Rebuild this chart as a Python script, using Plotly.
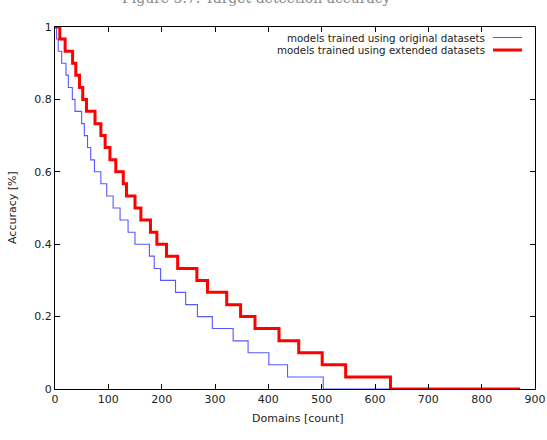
import plotly.graph_objects as go

# Step drop positions (domains count)
orig_x = [0, 3, 6, 12.5, 20.6, 25, 32.5, 37.5, 50, 55, 61, 67, 74, 86, 97, 109,
          122, 137, 150, 177, 186, 198, 226, 245, 267, 295, 334, 362, 401, 436, 503, 628]
ext_x = [0, 9, 19, 33, 39, 46, 52, 59, 75, 86, 94, 103, 114, 128, 134, 150,
         161, 179, 191, 209, 230, 266, 286, 322, 348, 375, 420, 457, 501, 545, 629, 872]
# Accuracy levels (fraction of 30 datasets)
levels = [1.0, 0.967, 0.933, 0.9, 0.867, 0.833, 0.8, 0.767, 0.733, 0.7, 0.667,
          0.633, 0.6, 0.567, 0.533, 0.5, 0.467, 0.433, 0.4, 0.367, 0.333,
          0.3, 0.267, 0.233, 0.2, 0.167, 0.133, 0.1, 0.067, 0.033, 0.0, 0.0]

x_ticks = [0, 100, 200, 300, 400, 500, 600, 700, 800, 900]
y_ticks = [0, 0.2, 0.4, 0.6, 0.8, 1]
y_tick_text = ["0", "0.2", "0.4", "0.6", "0.8", "1"]

names = ["models trained using original datasets", "models trained using extended datasets"]
BLUE = "#5858ff"
RED = "#ff0000"
FONT = "DejaVu Sans"
TXT = "#222"

fig = go.Figure()
fig.add_trace(go.Scatter(x=orig_x, y=levels, mode="lines", line_shape="hv",
                         line=dict(color=BLUE, width=1.1), name=names[0], showlegend=False))
fig.add_trace(go.Scatter(x=ext_x, y=levels, mode="lines", line_shape="hv",
                         line=dict(color=RED, width=3), name=names[1], showlegend=False))

W, H = 547, 440
L, R, T, B = 55, 12, 27, 51
pw, ph = W - L - R, H - T - B

def px_x(p):
    return (p - L) / pw

def px_y(p):
    return 1 - (p - T) / ph

# custom legend (text right-aligned, sample on the right, gnuplot style)
leg_y = [37.5, 50]
colors = [BLUE, RED]
widths = [1.1, 3]
for i in range(2):
    yp = px_y(leg_y[i])
    fig.add_annotation(x=px_x(487), y=yp, xref="paper", yref="paper",
                       text=names[i], showarrow=False, xanchor="right", yanchor="middle",
                       font=dict(family=FONT, size=10.3, color=TXT))
    fig.add_shape(type="line", xref="paper", yref="paper",
                  x0=px_x(493), x1=px_x(522), y0=yp, y1=yp,
                  line=dict(color=colors[i], width=widths[i]))

# axis titles
fig.add_annotation(x=px_x(298), y=px_y(418), xref="paper", yref="paper",
                   text="Domains [count]", showarrow=False, xanchor="center", yanchor="middle",
                   font=dict(family=FONT, size=11, color=TXT))
fig.add_annotation(x=px_x(12), y=px_y(208), xref="paper", yref="paper",
                   text="Accuracy [%]", showarrow=False, xanchor="center", yanchor="middle",
                   textangle=-90, font=dict(family=FONT, size=11, color=TXT))

# cropped caption at the very top
fig.add_annotation(x=px_x(256), y=1, xref="paper", yref="paper", yanchor="bottom",
                   yshift=19, showarrow=False,
                   text="Figure 5.7: Target detection accuracy",
                   font=dict(family="DejaVu Serif", size=14, color="#888"))

axis_common = dict(showgrid=False, zeroline=False, showline=True, linecolor="black",
                   linewidth=1, mirror="ticks", ticks="inside", ticklen=5,
                   tickcolor="black", automargin=False,
                   tickfont=dict(family=FONT, size=11, color=TXT))

fig.update_layout(
    width=W, height=H, margin=dict(l=L, r=R, t=T, b=B, autoexpand=False),
    plot_bgcolor="white", paper_bgcolor="white",
    xaxis=dict(range=[0, 900], tickvals=x_ticks, **axis_common),
    yaxis=dict(range=[0, 1], tickvals=y_ticks, ticktext=y_tick_text, **axis_common),
)

fig.write_html("out.html")
